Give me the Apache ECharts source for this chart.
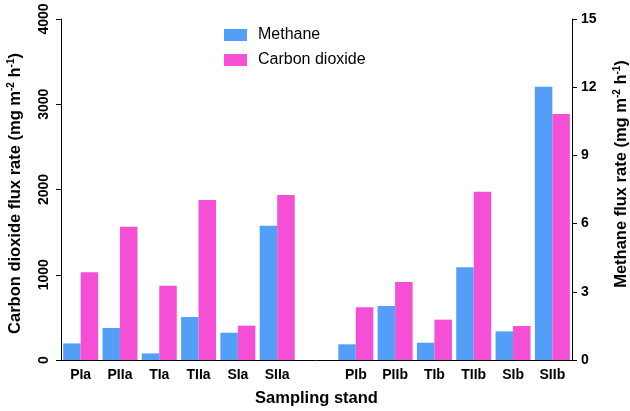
<!DOCTYPE html>
<html>
<head>
<meta charset="utf-8">
<script src="https://cdn.jsdelivr.net/npm/echarts@6/dist/echarts.min.js"></script>
<style>
  html, body { margin: 0; padding: 0; background: #fff; }
  #chart { width: 630px; height: 411px; }
</style>
</head>
<body>
<div id="chart"></div>
<script>
// stands, with an empty slot between the "a" and "b" groups
const stands = ['PIa', 'PIIa', 'TIa', 'TIIa', 'SIa', 'SIIa', '', 'PIb', 'PIIb', 'TIb', 'TIIb', 'SIb', 'SIIb'];
const methane = [0.73, 1.41, 0.29, 1.89, 1.2, 5.91, '-', 0.69, 2.38, 0.76, 4.08, 1.26, 12.02];
const co2 = [1029, 1564, 872, 1877, 403, 1935, '-', 618, 915, 473, 1974, 399, 2886];
const co2Ticks = [0, 1000, 2000, 3000, 4000];
const ch4Ticks = [0, 3, 6, 9, 12, 15];

const font = '"Liberation Sans", Arial, sans-serif';
const myChart = echarts.init(document.getElementById('chart'));

const nameRich = {
  a: { fontFamily: font, fontWeight: 'bold', fontSize: 16.5, color: '#000' },
  s: { fontFamily: font, fontWeight: 'bold', fontSize: 10, color: '#000', padding: [0, 0, 9, 0] }
};

const option = {
  animation: false,
  grid: { left: 61, right: 58, top: 19, bottom: 51, outerBoundsMode: 'none', containLabel: false },
  legend: {
    orient: 'vertical',
    left: 224,
    top: 27,
    padding: 0,
    itemWidth: 23,
    itemHeight: 12,
    itemGap: 9,
    icon: 'rect',
    textStyle: { fontFamily: font, fontSize: 16, color: '#000', padding: [0, 0, 0, 6] },
    data: ['Methane', 'Carbon dioxide']
  },
  xAxis: {
    type: 'category',
    data: stands,
    name: 'Sampling stand',
    nameLocation: 'middle',
    nameGap: 30,
    nameTextStyle: { fontFamily: font, fontWeight: 'bold', fontSize: 16.5, color: '#000' },
    axisLine: { lineStyle: { color: '#000', width: 1 } },
    axisTick: { alignWithLabel: true, length: 5, lineStyle: { color: '#000' } },
    axisLabel: { fontFamily: font, fontWeight: 'bold', fontSize: 14, color: '#000', margin: 8, interval: 0 }
  },
  yAxis: [
    {
      type: 'value',
      min: co2Ticks[0],
      max: co2Ticks[co2Ticks.length - 1],
      interval: 1000,
      name: '{a|Carbon dioxide flux rate (mg m}{s|-2}{a| h}{s|-1}{a|)}',
      nameLocation: 'middle',
      nameGap: 36,
      nameRotate: 90,
      nameTextStyle: { rich: nameRich, padding: [0, 8, 0, 0] },
      axisLine: { show: true, lineStyle: { color: '#000', width: 1 } },
      axisTick: { show: true, length: 5, lineStyle: { color: '#000' } },
      splitLine: { show: false },
      axisLabel: {
        fontFamily: font, fontWeight: 'bold', fontSize: 14, color: '#000', rotate: 90, margin: 10,
        formatter: v => String(v)
      }
    },
    {
      type: 'value',
      min: ch4Ticks[0],
      max: ch4Ticks[ch4Ticks.length - 1],
      interval: 3,
      position: 'right',
      name: '{a|Methane flux rate (mg m}{s|-2}{a| h}{s|-1}{a|)}',
      nameLocation: 'middle',
      nameGap: 40,
      nameRotate: 90,
      nameTextStyle: { rich: nameRich, padding: [0, 0, 0, 31] },
      axisLine: { show: true, lineStyle: { color: '#000', width: 1 } },
      axisTick: { show: true, length: 5, lineStyle: { color: '#000' } },
      splitLine: { show: false },
      axisLabel: { fontFamily: font, fontWeight: 'bold', fontSize: 14, color: '#000', margin: 9 }
    }
  ],
  series: [
    {
      name: 'Methane',
      type: 'bar',
      yAxisIndex: 1,
      data: methane,
      barGap: '0%',
      barCategoryGap: '11%',
      itemStyle: { color: '#539ff8' }
    },
    {
      name: 'Carbon dioxide',
      type: 'bar',
      yAxisIndex: 0,
      data: co2,
      itemStyle: { color: '#f54fd6' }
    }
  ]
};
myChart.setOption(option);
</script>
</body>
</html>
